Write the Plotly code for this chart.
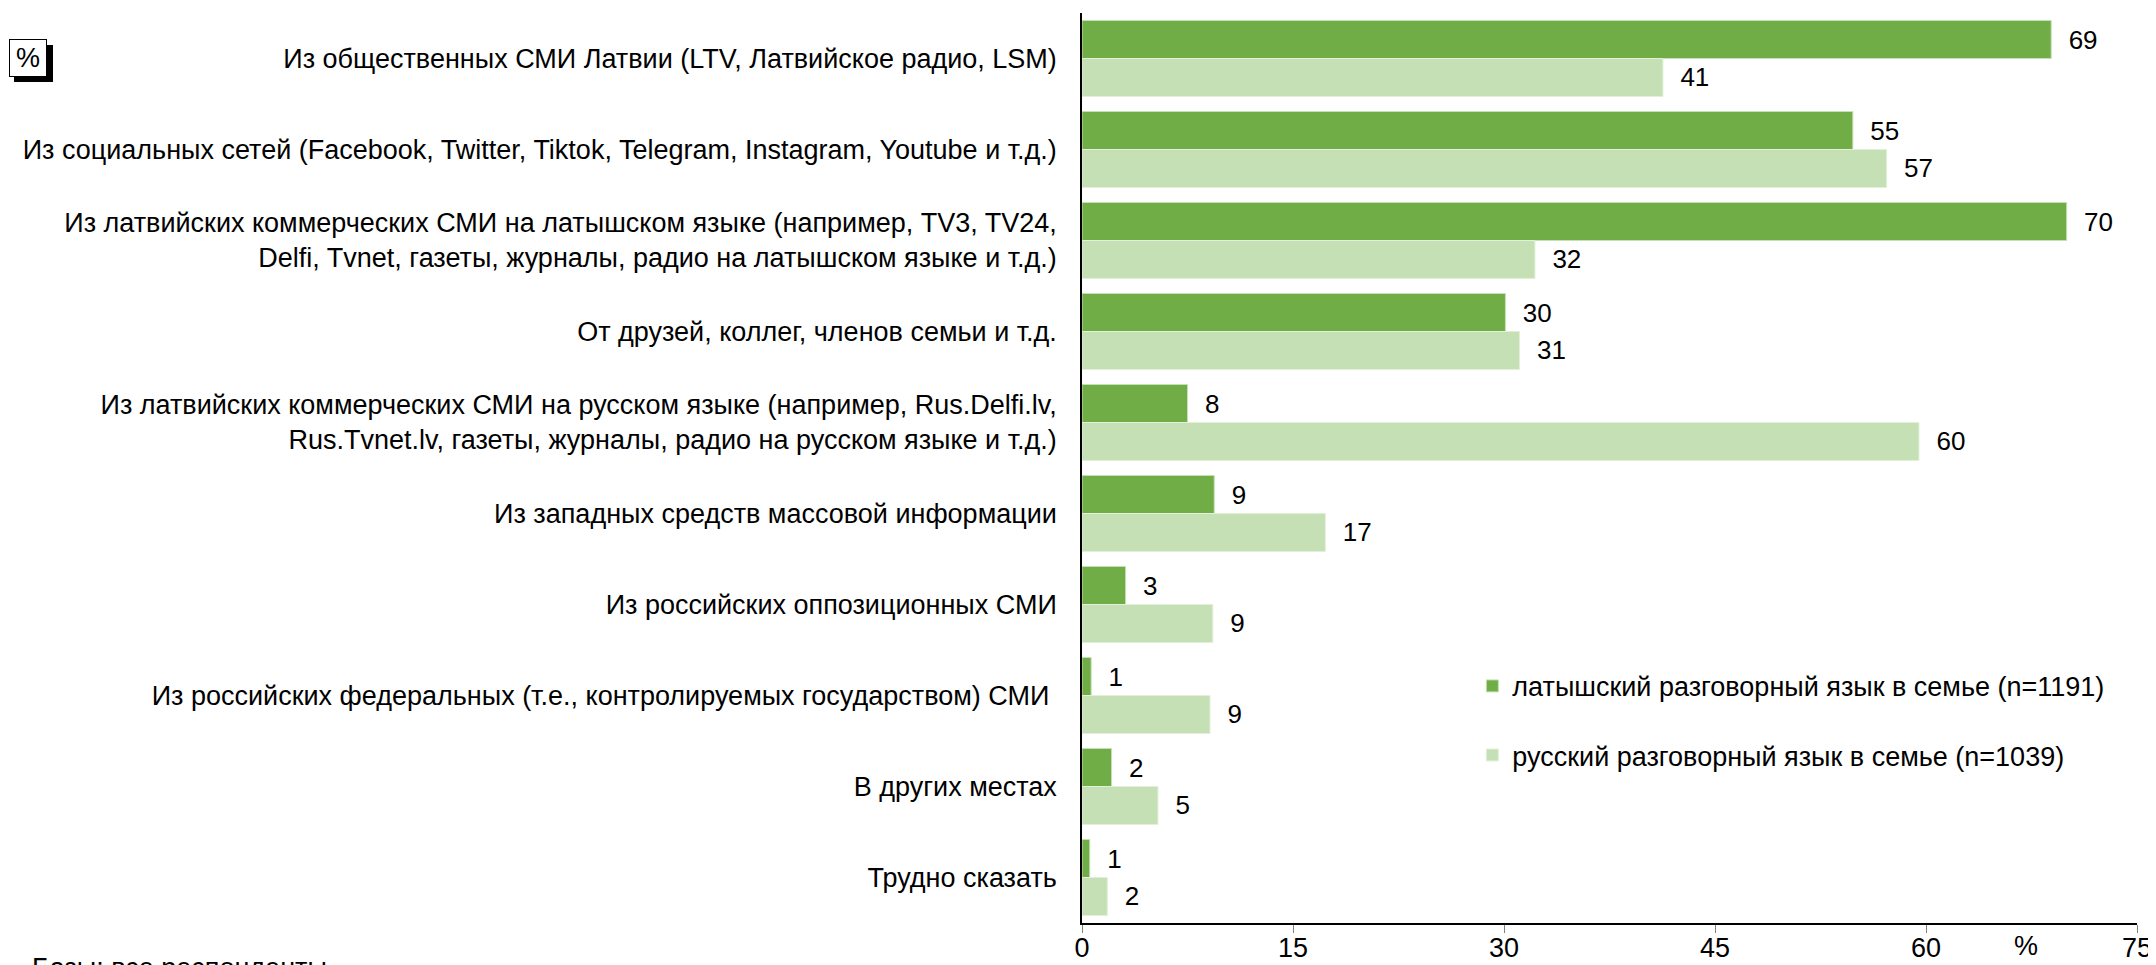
import plotly.graph_objects as go

categories = [
    "Из общественных СМИ Латвии (LTV, Латвийское радио, LSM)",
    "Из социальных сетей (Facebook, Twitter, Tiktok, Telegram, Instagram, Youtube и т.д.)",
    "Из латвийских коммерческих СМИ на латышском языке (например, TV3, TV24,<br>Delfi, Tvnet, газеты, журналы, радио на латышском языке и т.д.)",
    "От друзей, коллег, членов семьи и т.д.",
    "Из латвийских коммерческих СМИ на русском языке (например, Rus.Delfi.lv,<br>Rus.Tvnet.lv, газеты, журналы, радио на русском языке и т.д.)",
    "Из западных средств массовой информации",
    "Из российских оппозиционных СМИ",
    "Из российских федеральных (т.е., контролируемых государством) СМИ\u00a0",
    "В других местах",
    "Трудно сказать",
]

lv_values = [68.9, 54.8, 70.0, 30.1, 7.5, 9.4, 3.1, 0.65, 2.1, 0.55]
lv_labels = [69, 55, 70, 30, 8, 9, 3, 1, 2, 1]
ru_values = [41.3, 57.2, 32.2, 31.1, 59.5, 17.3, 9.3, 9.1, 5.4, 1.8]
ru_labels = [41, 57, 32, 31, 60, 17, 9, 9, 5, 2]

lv_name = "латышский разговорный язык в семье (n=1191)"
ru_name = "русский разговорный язык в семье (n=1039)"

x_ticks = [0, 15, 30, 45, 60, 75]

FONT = "Liberation Sans, Arial, sans-serif"

fig = go.Figure()
fig.add_trace(go.Bar(
    y=categories, x=lv_values, orientation="h", name=lv_name,
    marker=dict(color="#70AD47", line=dict(color="#C5E0B4", width=1)),
    text=["  " + str(v) for v in lv_labels], textposition="outside",
    textfont=dict(size=26, color="black"), cliponaxis=False,
    legendgroup="lv",
))
fig.add_trace(go.Bar(
    y=categories, x=ru_values, orientation="h", name=ru_name,
    marker=dict(color="#C5E0B4", line=dict(color="#E2F0D9", width=1)),
    text=["  " + str(v) for v in ru_labels], textposition="outside",
    textfont=dict(size=26, color="black"), cliponaxis=False,
    legendgroup="ru",
))

# page body has an 8px margin, so the figure is 8px smaller and margins shifted
n = len(categories)
fig.update_layout(
    width=2148, height=957,
    margin=dict(l=1074, r=19, t=5, b=42, autoexpand=False),
    paper_bgcolor="white", plot_bgcolor="white",
    font=dict(family=FONT, size=27, color="black"),
    barmode="group", bargap=0.165, bargroupgap=0,
    showlegend=True,
    legend=dict(x=0.370, y=0.287, xanchor="left", yanchor="top",
                font=dict(size=27), tracegroupgap=31, traceorder="grouped",
                bgcolor="rgba(0,0,0,0)", itemwidth=30),
    xaxis=dict(range=[0, 75], tickvals=x_ticks, showgrid=False, zeroline=False,
               showline=True, linecolor="black", linewidth=1.5,
               ticks="outside", ticklen=8, tickcolor="#808080",
               tickfont=dict(size=27), ticklabelstandoff=-8, automargin=False),
    yaxis=dict(autorange="reversed", showgrid=False, zeroline=False,
               showline=True, linecolor="black", linewidth=1.5,
               ticks="", ticklabelstandoff=18, tickfont=dict(size=27),
               automargin=False),
    yaxis2=dict(overlaying="y", anchor="x", side="left",
                range=[n - 0.5, -0.5], tickvals=[i - 0.5 for i in range(n + 1)],
                showticklabels=False, showgrid=False, zeroline=False,
                showline=False, ticks="outside", ticklen=6, tickcolor="#808080",
                automargin=False),
)

# percent sign next to the x axis
fig.add_annotation(x=67.1, y=0, xref="x", yref="paper", yanchor="top", yshift=-6,
                   text="%", showarrow=False, font=dict(size=27))

# boxed "%" with shadow in the top-left corner
fig.add_shape(type="rect", xref="paper", yref="paper",
              x0=-1068 / 1055, x1=-1029 / 1055, y0=(923 - 82) / 910, y1=(923 - 45) / 910,
              fillcolor="black", line=dict(width=0), layer="below")
fig.add_annotation(x=-1073 / 1055, y=(923 - 39) / 910, xref="paper", yref="paper",
                   xanchor="left", yanchor="top", text="%", showarrow=False,
                   font=dict(size=27), bgcolor="white", bordercolor="black",
                   borderwidth=1, width=34, height=34)

# base note at the very bottom, cut off by the page edge
fig.add_annotation(x=-1052 / 1055, y=(923 - 951) / 910, xref="paper", yref="paper",
                   xanchor="left", yanchor="top", text="Базы: все респонденты",
                   showarrow=False, font=dict(size=27))

fig.write_html("out.html")
